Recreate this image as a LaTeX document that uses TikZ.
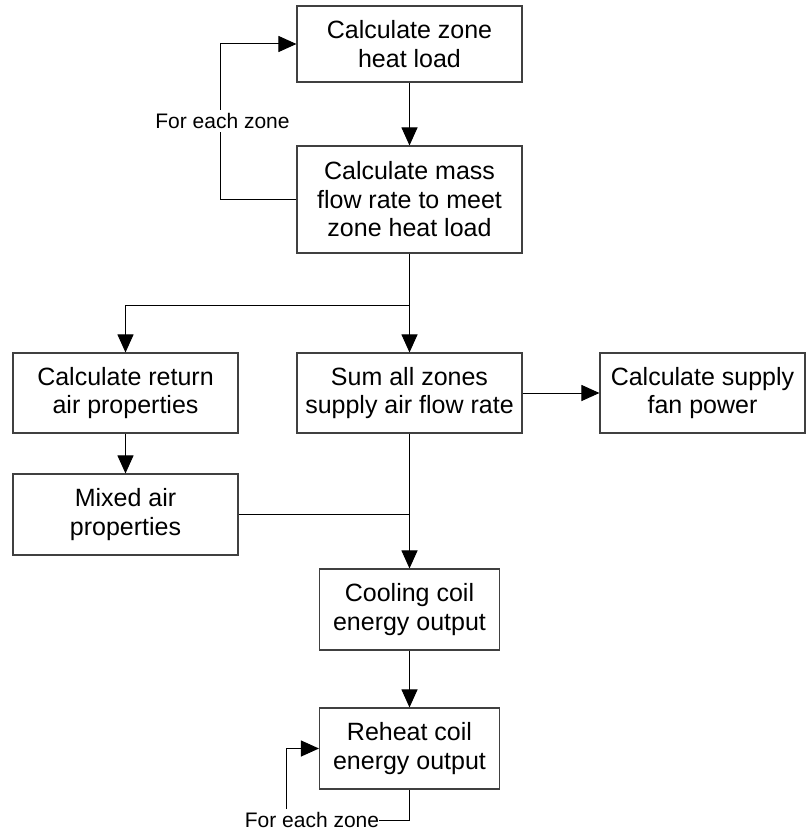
\documentclass[tikz,border=0pt]{standalone}
\usepackage{fontspec}
\setmainfont{Liberation Sans}
\usetikzlibrary{arrows.meta}
\begin{document}
\begin{tikzpicture}[x=1pt,y=-1pt,
  box/.style={draw=black!75,line width=1.1pt,fill=white,inner sep=0pt,align=center,
    font=\fontsize{25}{28.5}\selectfont},
  conn/.style={draw=black,line width=1pt},
  arr/.style={conn,-{Triangle[length=18pt,width=16pt]}},
  lbl/.style={font=\fontsize{21}{24}\selectfont,inner sep=0pt}]
\useasboundingbox (0,0) rectangle (806,832);
\node[box,minimum width=225pt,minimum height=76pt] (b1) at (409.5,44) {Calculate zone\\heat load};
\node[box,minimum width=225pt,minimum height=107pt] (b2) at (409.5,199.5) {Calculate mass\\flow rate to meet\\zone heat load};
\node[box,minimum width=225pt,minimum height=80pt] (b3) at (125.5,393) {Calculate return\\air properties};
\node[box,minimum width=225pt,minimum height=80pt] (b4) at (409.5,393) {Sum all zones\\supply air flow rate};
\node[box,minimum width=205pt,minimum height=80pt] (b5) at (702.5,393) {Calculate supply\\fan power};
\node[box,minimum width=225pt,minimum height=81pt] (b6) at (125.5,514.5) {Mixed air\\properties};
\node[box,minimum width=180pt,minimum height=81pt] (b7) at (409.5,609.5) {Cooling coil\\energy output};
\node[box,minimum width=180pt,minimum height=81pt] (b8) at (409.5,748.5) {Reheat coil\\energy output};
% top loop
\coordinate (la) at (220,199.5);
\coordinate (lb) at (220,44);
\draw[conn] (b2.west) -- (la) -- (lb);
\draw[arr] (lb) -- (b1.west);
\node[lbl,fill=white,inner sep=3pt] (t1) at (222.5,121) {For each zone};
% main flow
\draw[arr] (b1.south) -- (b2.north);
\coordinate (j1) at (409.5,305);
\draw[conn] (b2.south) -- (j1);
\draw[arr] (j1) -- (b4.north);
\draw[arr] (j1) -| (b3.north);
\draw[arr] (b4.east) -- (b5.west);
\draw[arr] (b3.south) -- (b6.north);
\draw[arr] (b4.south) -- (b7.north);
\draw[conn] (b6.east) -- (b6.east -| b4.south);
\draw[arr] (b7.south) -- (b8.north);
% bottom loop
\node[lbl,anchor=base] (t2) at (312,827.5) {For each zone};
\coordinate (m1) at (286,809);
\coordinate (m2) at (286,748.5);
\draw[conn] (b8.south) |- (t2.east);
\draw[conn] (m1) -- (m2);
\draw[arr] (m2) -- (b8.west);
\end{tikzpicture}
\end{document}
